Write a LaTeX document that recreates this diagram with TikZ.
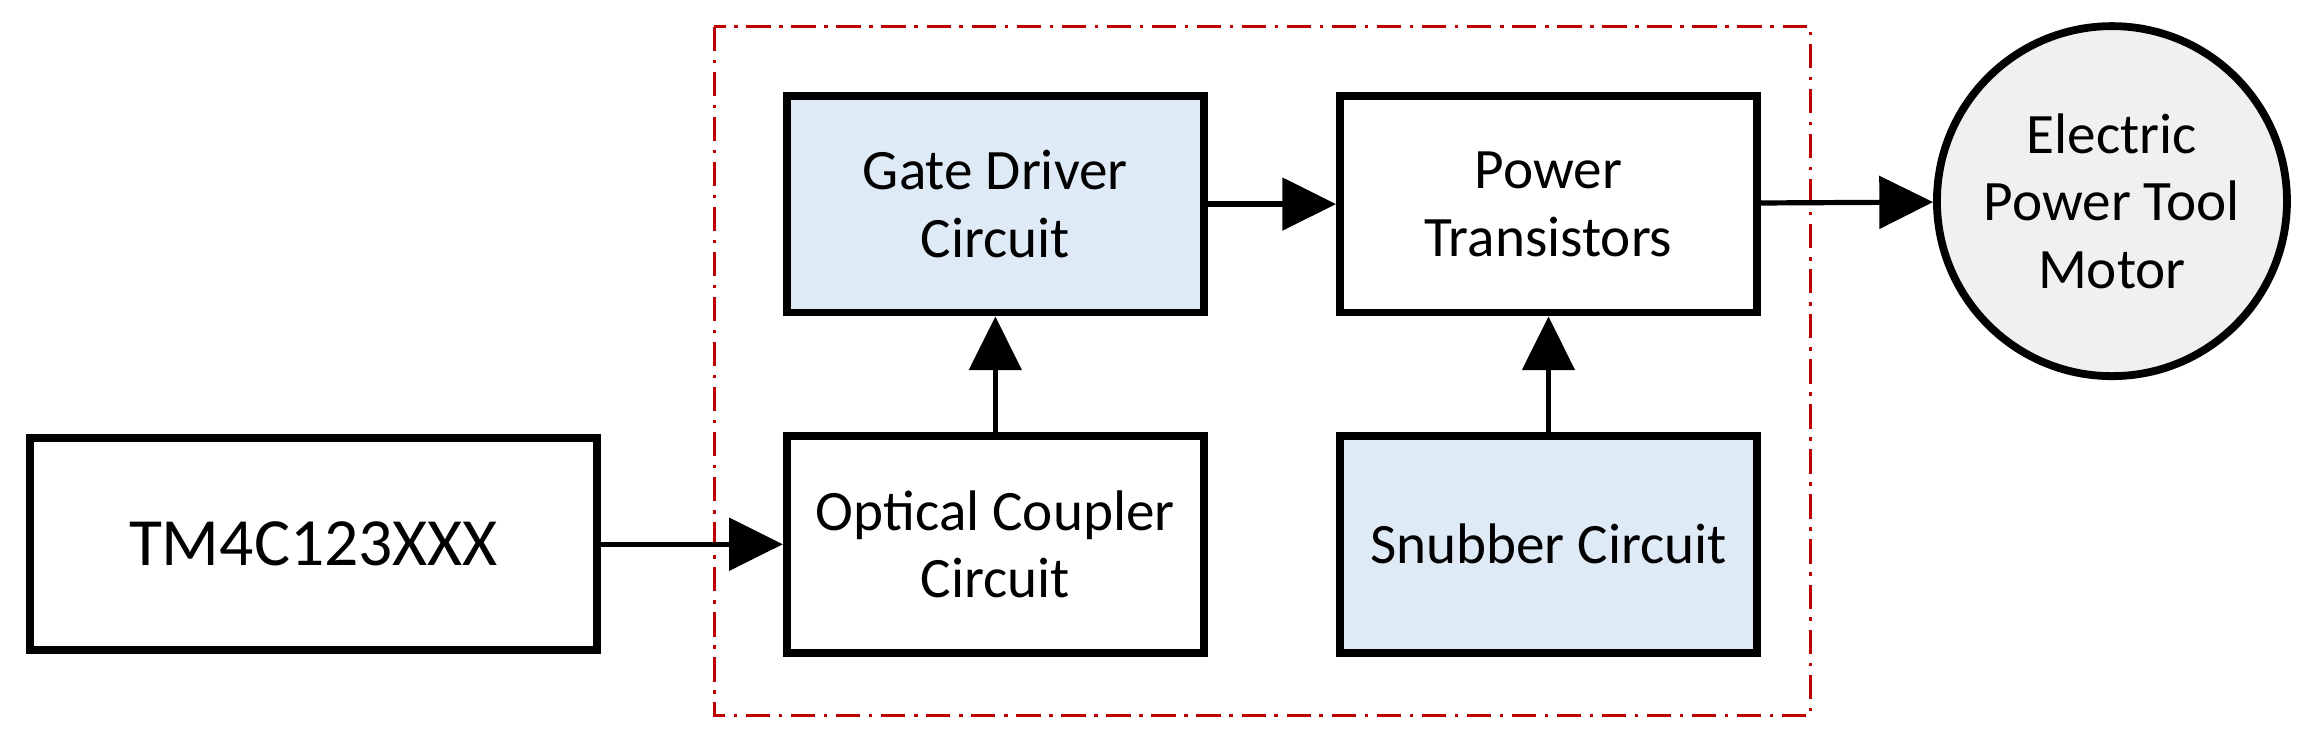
\documentclass[tikz,border=0pt]{standalone}
\usepackage{fontspec}
\setmainfont{Carlito}
\usetikzlibrary{arrows.meta}
\begin{document}
\begin{tikzpicture}[x=0.03cm,y=-0.03cm,
  box/.style={draw,line width=4.5pt,minimum width=8.46cm,minimum height=4.4cm,align=center,font=\fontsize{33}{39}\selectfont},
  hatch/.style={fill={rgb,255:red,222;green,234;blue,245}},
  arr/.style={line width=3pt,-{Triangle[length=31pt,width=30pt]}}]
\useasboundingbox (0,0) rectangle (1568,507);
\draw[red!75!black,line width=1.6pt,dash pattern=on 14pt off 5pt on 2pt off 5pt] (483,18) rectangle (1224,484);
\node[box,minimum width=11.5cm,minimum height=4.3cm,font=\fontsize{39}{46}\selectfont] (tm) at (212,368) {TM4C123XXX};
\node[box] (oc) at (673,368) {Optical Coupler\\Circuit};
\node[box,hatch] (gd) at (673,138) {Gate Driver\\Circuit};
\node[box] (pt) at (1047,138) {Power\\Transistors};
\node[box,hatch] (sn) at (1047,368) {Snubber Circuit};
\node[circle,draw,line width=4.5pt,fill=black!6,minimum size=7.1cm,inner sep=0pt,align=center,font=\fontsize{33}{39}\selectfont] (m) at (1428,136) {Electric\\Power Tool\\Motor};
\draw[arr] (tm) -- (oc);
\draw[arr] (oc) -- (gd);
\draw[arr] (gd) -- (pt);
\draw[arr] (sn) -- (pt);
\draw[arr] (pt) -- (m);
\end{tikzpicture}
\end{document}
